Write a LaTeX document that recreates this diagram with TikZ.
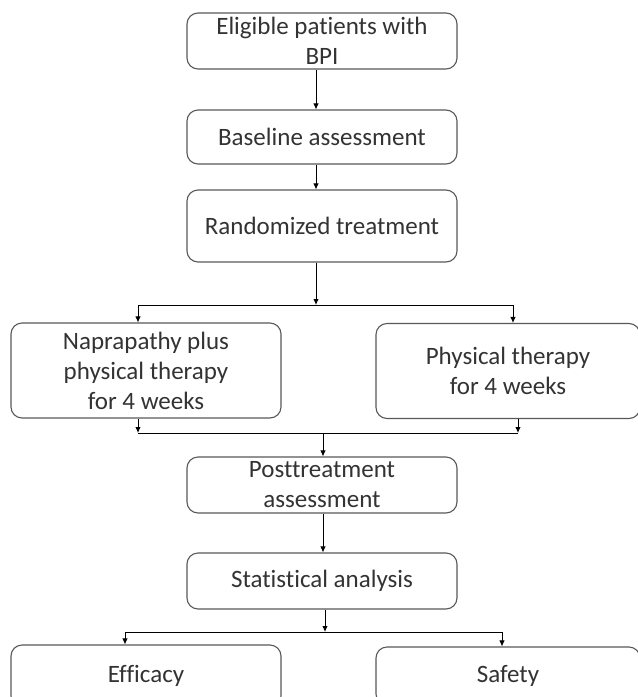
\documentclass[tikz,border=0pt]{standalone}
\usepackage{fontspec}
\setmainfont[Ligatures=NoCommon]{Carlito}
\usetikzlibrary{arrows.meta}
\begin{document}
\begin{tikzpicture}[x=1pt,y=-1pt,
  box/.style={draw=black!65,line width=1.1pt,rounded corners=11pt,align=center,
    minimum width=270pt,inner sep=0pt,text=black!80,
    font=\fontsize{25}{30}\selectfont},
  conn/.style={line width=0.9pt,black},
  arr/.style={conn,-{Latex[length=6pt,width=5.5pt]}}]
\useasboundingbox (0,0) rectangle (638,697);
\clip (0,0) rectangle (638,697);
\fill[white] (0,0) rectangle (638,697);
\node[box,minimum height=56pt] (b1) at (322,41) {Eligible patients with\\BPI};
\node[box,minimum height=54pt] (b2) at (322,137) {Baseline assessment};
\node[box,minimum height=72pt] (b3) at (322,226) {Randomized treatment};
\node[box,minimum height=95pt] (L) at (146,370.5) {Naprapathy plus\\physical therapy\\for 4 weeks};
\node[box,minimum height=95pt,minimum width=264pt] (R) at (508,371) {Physical therapy\\for 4 weeks};
\node[box,minimum height=56pt] (P) at (322,485) {Posttreatment\\assessment};
\node[box,minimum height=56pt] (S) at (322,581) {Statistical analysis};
\node[box,minimum height=62pt] (E) at (146,676) {Efficacy};
\node[box,minimum height=58pt,minimum width=264pt] (F) at (508,676) {Safety};
% junction coordinates
\coordinate (j1) at (316,305);
\coordinate (j1l) at (138,305);
\coordinate (j1r) at (513,305);
\coordinate (j2) at (323,433);
\coordinate (j2l) at (138,433);
\coordinate (j2r) at (518,433);
\coordinate (j3) at (325,632);
\coordinate (j3l) at (125,632);
\coordinate (j3r) at (502,632);
% connectors
\draw[arr] (b1.south -| j1) -- (b2.north -| j1);
\draw[arr] (b2.south -| j1) -- (b3.north -| j1);
\draw[arr] (b3.south -| j1) -- (j1);
\draw[conn] (j1l) -- (j1r);
\draw[arr] (j1l) -- (L.north -| j1l);
\draw[arr] (j1r) -- (R.north -| j1r);
\draw[arr] (L.south -| j2l) -- (j2l);
\draw[arr] (R.south -| j2r) -- (j2r);
\draw[conn] (j2l) -- (j2r);
\draw[arr] (j2) -- (P.north -| j2);
\draw[arr] (P.south -| j2) -- (S.north -| j2);
\draw[arr] (S.south -| j3) -- (j3);
\draw[conn] (j3l) -- (j3r);
\draw[arr] (j3l) -- (E.north -| j3l);
\draw[arr] (j3r) -- (F.north -| j3r);
\end{tikzpicture}
\end{document}
